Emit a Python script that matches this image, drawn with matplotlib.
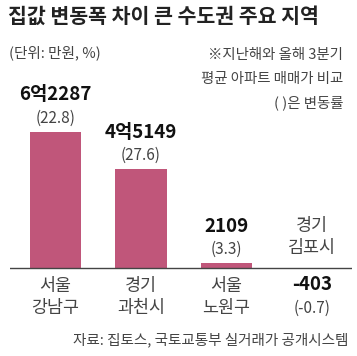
import matplotlib.pyplot as plt

plt.rcParams['font.family'] = ['Noto Sans CJK KR', 'DejaVu Sans']

# 데이터
regions = ['서울\n강남구', '경기\n과천시', '서울\n노원구', '경기\n김포시']
diff = [62287, 45149, 2109, -403]          # 만원
diff_labels = ['6억2287', '4억5149', '2109', '-403']
rate = [22.8, 27.6, 3.3, -0.7]             # %

bar_color = '#c0567a'
W, H = 357, 356
px = 0.72  # 픽셀 -> 포인트

fig = plt.figure(figsize=(W / 100, H / 100), dpi=100)

# 축 위치 (픽셀 기준)
ax_top, ax_bot = 60, 300
ax = fig.add_axes([10 / W, (H - ax_bot) / H, 342 / W, (ax_bot - ax_top) / H])
k = 136 / 62287                      # px per 만원
base = 268 - ax_top                  # 축 위에서 0선까지
ax.set_ylim(-(ax_bot - 268) / k, base / k)
ax.set_xlim(-0.532, 3.468)

x = range(len(regions))
ax.bar(x, diff, width=0.6, color=bar_color, zorder=2)
ax.axhline(0, color='#444444', lw=1, zorder=3)

for i in x:
    top = max(diff[i], 0)
    if diff[i] >= 0:
        ax.annotate(diff_labels[i], (i, top), xytext=(0, 37 * px), textcoords='offset points',
                    ha='center', va='center', fontsize=13.5, fontweight='bold', color='#111111')
        ax.annotate(f'({rate[i]})', (i, top), xytext=(0, 14 * px), textcoords='offset points',
                    ha='center', va='center', fontsize=11, color='#444444')
        ax.annotate(regions[i], (i, 0), xytext=(0, -29 * px), textcoords='offset points',
                    ha='center', va='center', fontsize=12.5, color='#444444', linespacing=1.3)
    else:
        ax.annotate(regions[i], (i, 0), xytext=(0, 31 * px), textcoords='offset points',
                    ha='center', va='center', fontsize=12.5, color='#444444', linespacing=1.3)
        ax.annotate(diff_labels[i], (i, 0), xytext=(0, -17 * px), textcoords='offset points',
                    ha='center', va='center', fontsize=13.5, fontweight='bold', color='#111111')
        ax.annotate(f'({rate[i]})', (i, 0), xytext=(0, -40 * px), textcoords='offset points',
                    ha='center', va='center', fontsize=11, color='#444444')

ax.axis('off')

# 텍스트
fig.text(8 / W, 1 - 16 / H, '집값 변동폭 차이 큰 수도권 주요 지역', fontsize=14.8,
         fontweight='bold', color='#222222', va='center', ha='left')
fig.text(9 / W, 1 - 53 / H, '(단위: 만원, %)', fontsize=10.5, color='#444444', va='center')
notes = ['※지난해와 올해 3분기', '평균 아파트 매매가 비교', '( )은 변동률']
for j, line in enumerate(notes):
    fig.text(343 / W, 1 - (55 + j * 24) / H, line, fontsize=10.4, color='#444444',
             ha='right', va='center')
fig.text(348 / W, 1 - 340 / H, '자료: 집토스, 국토교통부 실거래가 공개시스템', fontsize=10.5,
         color='#444444', ha='right', va='center')

fig.savefig('out.png', dpi=100)
